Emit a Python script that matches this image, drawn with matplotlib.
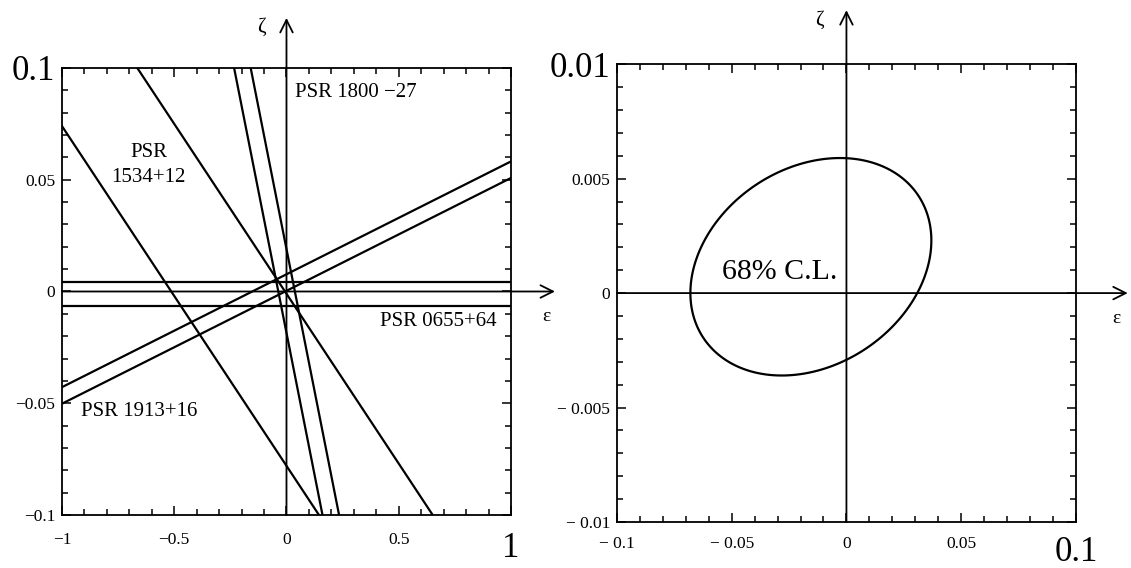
import numpy as np
import matplotlib
matplotlib.use("Agg")
import matplotlib.pyplot as plt
from matplotlib.ticker import MultipleLocator

plt.rcParams['font.family'] = ['Liberation Serif', 'DejaVu Serif']

# --- left panel: constraint bands (zeta = slope * eps + intercept), two lines per pulsar
band_names = ['PSR 0655+64', 'PSR 1913+16', 'PSR 1534+12', 'PSR 1800 −27']
band_slopes = [0.0, 0.0505, -0.152, -0.508]
band_intercepts = [(0.0044, -0.0067), (0.0077, 0.0003), (-0.001, -0.078), (-0.0185, 0.019)]

left_xticks = [-1, -0.5, 0, 0.5, 1]
left_xlabels = ['−1', '−0.5', '0', '0.5', '1']
left_yticks = [-0.1, -0.05, 0, 0.05, 0.1]
left_ylabels = ['−0.1', '−0.05', '0', '0.05', '0.1']

# --- right panel: 68% C.L. ellipse (centre, half extents, phase between eps and zeta)
ell_center = (-0.0155, 0.00115)
ell_half = (0.0525, 0.00475)
ell_phase_deg = 76.0

right_xticks = [-0.1, -0.05, 0, 0.05, 0.1]
right_xlabels = ['− 0.1', '− 0.05', '0', '0.05', '0.1']
right_yticks = [-0.01, -0.005, 0, 0.005, 0.01]
right_ylabels = ['− 0.01', '− 0.005', '0', '0.005', '0.01']

fig = plt.figure(figsize=(11.31, 5.68), dpi=100)
axL = fig.add_axes([0.0548, 0.0933, 0.397, 0.787])
axR = fig.add_axes([0.5455, 0.081, 0.4058, 0.806])


def style_axes(ax, xt, xl, yt, yl, xminor, yminor, lim_x, lim_y, xpad):
    ax.set_xlim(lim_x)
    ax.set_ylim(lim_y)
    ax.set_xticks(xt)
    ax.set_xticklabels(xl)
    ax.set_yticks(yt)
    ax.set_yticklabels(yl)
    ax.xaxis.set_minor_locator(MultipleLocator(xminor))
    ax.yaxis.set_minor_locator(MultipleLocator(yminor))
    ax.tick_params(which='both', direction='in', top=True, right=True,
                   width=1.1, labelsize=12.5)
    ax.tick_params(which='major', length=6.5)
    ax.tick_params(which='minor', length=4.3)
    ax.tick_params(axis='x', pad=xpad)
    ax.tick_params(axis='y', pad=5)
    for s in ax.spines.values():
        s.set_linewidth(1.3)
    # the extreme tick labels are printed large
    ax.get_xticklabels()[-1].set_fontsize(25)
    ax.get_yticklabels()[-1].set_fontsize(25)


def draw_arrows(ax, x_tip, y_tip, zeta_pos, eps_pos):
    arrow = dict(arrowstyle='->,head_length=0.6,head_width=0.3', lw=1.3,
                 color='black', mutation_scale=15, shrinkA=0, shrinkB=0)
    ax.annotate('', xy=(x_tip, 0), xycoords=('axes fraction', 'data'),
                xytext=(0, 0), textcoords=('axes fraction', 'data'),
                arrowprops=arrow, annotation_clip=False)
    ax.annotate('', xy=(0, y_tip), xycoords=('data', 'axes fraction'),
                xytext=(0, 0), textcoords=('data', 'axes fraction'),
                arrowprops=arrow, annotation_clip=False)
    ax.text(*zeta_pos, 'ζ', transform=ax.transAxes, fontsize=15,
            ha='center', va='center')
    ax.text(*eps_pos, 'ε', transform=ax.transAxes, fontsize=14,
            ha='center', va='center')


# left panel
style_axes(axL, left_xticks, left_xlabels, left_yticks, left_ylabels,
           0.1, 0.01, (-1, 1), (-0.1, 0.1), 12)
for slope, pair in zip(band_slopes, band_intercepts):
    for b in pair:
        axL.axline((0, b), slope=slope, color='black', lw=1.6)
draw_arrows(axL, 1.098, 1.112, (0.445, 1.09), (1.078, 0.443))

axL.text(0.935, -0.0156, band_names[0], ha='right', va='baseline', fontsize=15)
axL.text(-0.915, -0.0557, band_names[1], ha='left', va='baseline', fontsize=15)
axL.text(-0.615, 0.060, 'PSR', ha='center', va='baseline', fontsize=15)
axL.text(-0.615, 0.049, '1534+12', ha='center', va='baseline', fontsize=15)
axL.text(0.04, 0.087, band_names[3], ha='left', va='baseline', fontsize=15)

# right panel
style_axes(axR, right_xticks, right_xlabels, right_yticks, right_ylabels,
           0.01, 0.001, (-0.1, 0.1), (-0.01, 0.01), 10)
t = np.linspace(0, 2 * np.pi, 400)
phase = np.deg2rad(ell_phase_deg)
ex = ell_center[0] + ell_half[0] * np.cos(t)
ey = ell_center[1] + ell_half[1] * np.cos(t - phase)
axR.fill(ex, ey, fill=False, edgecolor='black', lw=1.6)
draw_arrows(axR, 1.113, 1.118, (0.442, 1.096), (1.089, 0.445))
axR.text(-0.029, 0.0006, '68% C.L.', ha='center', va='baseline', fontsize=21.5)

fig.savefig('out.png', dpi=100)
